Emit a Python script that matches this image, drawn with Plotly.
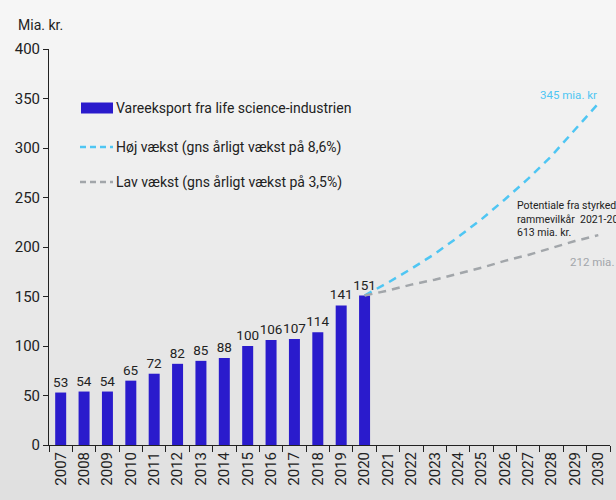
import plotly.graph_objects as go

years = [str(y) for y in range(2007, 2031)]
bar_years = [str(y) for y in range(2007, 2021)]
export_values = [53, 54, 54, 65, 72, 82, 85, 88, 100, 106, 107, 114, 141, 151]
proj_years = [str(y) for y in range(2020, 2031)]
high_growth = [151, 164, 178, 193, 210, 228, 248, 269, 292, 318, 345]
low_growth = [151, 156, 162, 167, 173, 179, 186, 192, 199, 206, 212]
y_ticks = [0, 50, 100, 150, 200, 250, 300, 350, 400]

FONT = "Roboto, sans-serif"
BAR_C = "#2a1bcc"
HIGH_C = "#4fc6f3"
LOW_C = "#a2a6aa"

W, H = 616, 500
L, R, T, B = 49, 6, 49, 55
PW, PH = W - L - R, H - T - B


def px(x):
    return (x - L) / PW


def py(y):
    return (H - B - y) / PH


fig = go.Figure()
fig.add_trace(go.Bar(
    x=bar_years, y=export_values, marker_color=BAR_C, marker_line_width=0,
    text=export_values, textposition="outside", cliponaxis=False,
    constraintext="none",
    textfont=dict(size=13.5, color="#222222", family=FONT), showlegend=False,
))
fig.add_trace(go.Scatter(
    x=proj_years, y=high_growth, mode="lines",
    line=dict(color=HIGH_C, width=2.5, dash="8px,6px"), showlegend=False,
))
fig.add_trace(go.Scatter(
    x=proj_years, y=low_growth, mode="lines",
    line=dict(color=LOW_C, width=2.5, dash="8px,6px"), showlegend=False,
))

shapes = []
# vertical gradient background
N = 50
for i in range(N):
    y0 = i * H / N
    y1 = (i + 1) * H / N + 0.5
    t = i / (N - 1)
    v = round(246 - t * 22)
    shapes.append(dict(type="rect", xref="paper", yref="paper", layer="below",
                       x0=px(0), x1=px(W), y0=py(y1), y1=py(y0),
                       fillcolor=f"rgb({v},{v},{v})", line_width=0))

# manual legend
legend_items = [
    ("Vareeksport fra life science-industrien", "bar", BAR_C, 108),
    ("Høj vækst (gns årligt vækst på 8,6%)", "line", HIGH_C, 147),
    ("Lav vækst (gns årligt vækst på 3,5%)", "line", LOW_C, 182),
]
annotations = []
for label, kind, col, yy in legend_items:
    if kind == "bar":
        shapes.append(dict(type="rect", xref="paper", yref="paper",
                           x0=px(81), x1=px(113), y0=py(yy + 5.5), y1=py(yy - 5.5),
                           fillcolor=col, line_width=0))
    else:
        shapes.append(dict(type="line", xref="paper", yref="paper",
                           x0=px(80), x1=px(113), y0=py(yy), y1=py(yy),
                           line=dict(color=col, width=2.5, dash="6px,4px")))
    annotations.append(dict(text=label, xref="paper", yref="paper", x=px(114), y=py(yy),
                            xanchor="left", yanchor="middle", showarrow=False,
                            font=dict(size=14, color="#222222", family=FONT)))

annotations += [
    dict(text="Mia. kr.", xref="paper", yref="paper", x=px(16), y=py(25),
         xanchor="left", yanchor="middle", showarrow=False,
         font=dict(size=14, color="#222222", family=FONT)),
    dict(text="345 mia. kr", xref="paper", yref="paper", x=px(599), y=py(95),
         xanchor="right", yanchor="middle", showarrow=False,
         font=dict(size=11.5, color=HIGH_C, family=FONT)),
    dict(text="Potentiale fra styrkede<br>rammevilkår  2021-2030<br>613 mia. kr.",
         xref="paper", yref="paper", x=px(515), y=py(197),
         xanchor="left", yanchor="top", align="left", showarrow=False,
         font=dict(size=10.5, color="#222222", family=FONT)),
    dict(text="212 mia. kr", xref="paper", yref="paper", x=px(568), y=py(262),
         xanchor="left", yanchor="middle", showarrow=False,
         font=dict(size=11.5, color=LOW_C, family=FONT)),
]

fig.update_layout(
    width=W, height=H, margin=dict(l=L, r=R, t=T, b=B, autoexpand=False),
    paper_bgcolor="#eeeeee", plot_bgcolor="rgba(0,0,0,0)",
    bargap=0.53, showlegend=False,
    font=dict(family=FONT, color="#222222"),
    shapes=shapes, annotations=annotations,
)
fig.update_xaxes(
    type="category", categoryorder="array", categoryarray=years,
    range=[-0.5, len(years) - 0.5], tickson="boundaries", automargin=False,
    ticks="outside", ticklen=6, tickcolor="#222222", tickwidth=1,
    showline=True, linecolor="#222222", linewidth=1,
    tickangle=-90, tickfont=dict(size=15, color="#222222", family=FONT),
    showgrid=False, zeroline=False,
)
fig.update_yaxes(
    range=[0, 400], tickvals=y_ticks, ticks="outside", ticklen=5, automargin=False,
    tickcolor="#222222", showline=True, linecolor="#222222", linewidth=1,
    tickfont=dict(size=15, color="#222222", family=FONT),
    showgrid=False, zeroline=False,
)

fig.write_html(
    "out.html",
    config={"displayModeBar": False},
    post_script="document.body.style.margin='0';document.body.style.overflow='hidden';",
)
